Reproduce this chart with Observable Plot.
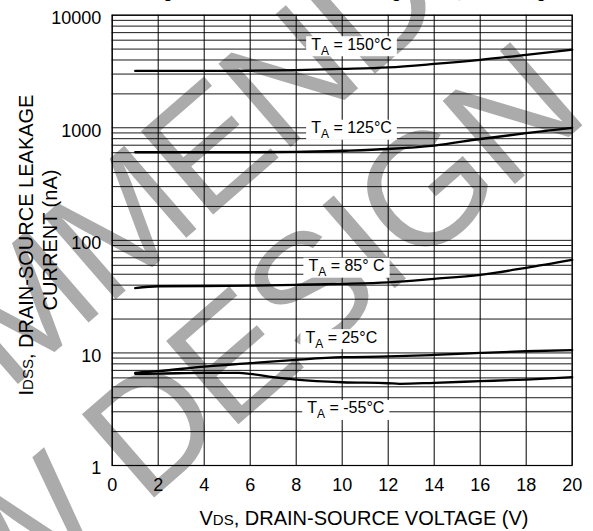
<!DOCTYPE html>
<html>
<head>
<meta charset="utf-8">
<script src="https://cdn.jsdelivr.net/npm/d3@7"></script>
<script src="https://cdn.jsdelivr.net/npm/@observablehq/plot@0.6"></script>
<style>
  html, body { margin: 0; padding: 0; background: #fff; }
  svg { display: block; }
</style>
</head>
<body>
<div id="chart"></div>
<script>
// ---- data ----
const xTicks = [0, 2, 4, 6, 8, 10, 12, 14, 16, 18, 20];
const yTicks = [1, 10, 100, 1000, 10000];
const yGrid = [1, 2, 3, 4, 5, 6, 7, 8, 9,
               10, 20, 30, 40, 50, 60, 70, 80, 90,
               100, 200, 300, 400, 500, 600, 700, 800, 900,
               1000, 2000, 3000, 4000, 5000, 6000, 7000, 8000, 9000, 10000];

const vds150 = [1, 2, 4, 6, 8, 10, 12, 14, 16, 18, 20];
const idss150 = [3200, 3200, 3200, 3210, 3250, 3330, 3440, 3690, 4010, 4440, 4950];

const vds125 = [1, 2, 4, 6, 8, 10, 12, 14, 16, 18, 20];
const idss125 = [606, 606, 606, 606, 610, 625, 648, 695, 795, 895, 1000];

const vds85 = [1, 2, 4, 6, 8, 10, 12, 14, 16, 18, 20];
const idss85 = [37.6, 39.1, 39.3, 39.6, 40.3, 41.1, 42.4, 45.5, 49.4, 57, 67];

const vds25 = [1, 2, 4, 6, 8, 10, 12, 14, 16, 18, 20];
const idss25 = [6.66, 6.88, 7.57, 8.1, 8.68, 9.16, 9.3, 9.6, 10.0, 10.35, 10.6];

const vdsM55 = [1, 2, 4, 5.5, 6, 7, 8, 10, 12, 12.5, 14, 16, 18, 20];
const idssM55 = [6.52, 6.55, 6.65, 6.65, 6.52, 6.09, 5.80, 5.49, 5.38, 5.32, 5.43, 5.61, 5.80, 6.09];

const seriesNames = ["150°C", "125°C", "85° C", "25°C", "-55°C"];
// annotation anchors (data units)
const labelX = [8.65, 8.65, 8.53, 8.4, 8.48];
const labelY = [5480, 993, 59.1, 13.7, 3.22];

// ---- build tables ----
const seriesX = [vds150, vds125, vds85, vds25, vdsM55];
const seriesY = [idss150, idss125, idss85, idss25, idssM55];
const rows = seriesX.flatMap((xs, s) => xs.map((x, i) => ({series: seriesNames[s], x, y: seriesY[s][i]})));
const labels = seriesNames.map((t, i) => ({t, x: labelX[i], y: labelY[i]}));

const FONT = "Liberation Sans, Arial, Helvetica, sans-serif";

const svg = Plot.plot({
  width: 593,
  height: 531,
  marginLeft: 111.7,
  marginRight: 21.3,
  marginTop: 14.7,
  marginBottom: 66,
  style: {background: "transparent", fontFamily: FONT},
  x: {domain: [0, 20], axis: null},
  y: {type: "log", domain: [1, 10000], axis: null},
  marks: [
    Plot.ruleY(yGrid, {y: d => d, stroke: "#000", strokeWidth: 1, strokeOpacity: 0.9}),
    Plot.ruleX(xTicks, {x: d => d, stroke: "#000", strokeWidth: 1}),
    Plot.frame({stroke: "#000", strokeWidth: 1.2}),
    Plot.line(rows, {x: "x", y: "y", z: "series", stroke: "#000", strokeWidth: 2.3, curve: "monotone-x"}),
    Plot.text(labels, {x: "x", y: "y", text: d => "TA = " + d.t, textAnchor: "start", lineAnchor: "middle",
      fontSize: 16, fontFamily: FONT, fill: "#000"}),
    Plot.text(xTicks, {x: d => d, frameAnchor: "bottom", dy: 20, text: d => String(d), lineAnchor: "middle",
      fontSize: 18, fontFamily: FONT, fill: "#000"}),
    Plot.text(yTicks, {y: d => d, frameAnchor: "left", dx: -11, dy: 3, textAnchor: "end", lineAnchor: "middle",
      text: d => String(d), fontSize: 18, fontFamily: FONT, fill: "#000"})
  ]
});

document.getElementById("chart").appendChild(svg);
const root = d3.select(svg);

// ---- watermark (underneath everything) ----
const wm = d3.create("svg:g")
  .attr("transform", "translate(139,451) rotate(-41)")
  .attr("fill", "#ababab")
  .attr("text-anchor", "start")
  .attr("font-family", FONT)
  .attr("font-size", 160);
wm.append("text").attr("x", -800).attr("y", 45).attr("letter-spacing", -4).text("FOR NEW DESIGN");
wm.append("text").attr("x", -870).attr("y", -130).attr("letter-spacing", -4).text("NOT RECOMMENDED");
svg.insertBefore(wm.node(), svg.firstChild);

// ---- temperature labels: subscript + white box ----
root.selectAll("text").each(function() {
  const t = this.textContent;
  if (!t.startsWith("TA = ")) return;
  const rest = t.slice(2);
  const sel = d3.select(this);
  sel.text(null);
  sel.append("tspan").text("T");
  sel.append("tspan").attr("font-size", 12).attr("dy", 5).text("A");
  sel.append("tspan").attr("dy", -5).text(rest);
  const bb = this.getBBox();
  const rect = document.createElementNS("http://www.w3.org/2000/svg", "rect");
  rect.setAttribute("x", bb.x - 5);
  rect.setAttribute("y", bb.y + 0.5);
  rect.setAttribute("width", bb.width + 10);
  rect.setAttribute("height", bb.height - 2);
  rect.setAttribute("fill", "#fff");
  const tr = this.getAttribute("transform");
  if (tr) rect.setAttribute("transform", tr);
  this.parentNode.insertBefore(rect, this);
});

// ---- axis titles ----
const xt = root.append("text")
  .attr("x", 364).attr("y", 525)
  .attr("text-anchor", "middle")
  .attr("font-family", FONT).attr("font-size", 20).attr("fill", "#000");
xt.append("tspan").text("V");
xt.append("tspan").attr("font-size", 15).text("DS");
xt.append("tspan").text(", DRAIN-SOURCE VOLTAGE (V)");

const yt1 = root.append("text")
  .attr("transform", "translate(32.7,245) rotate(-90)")
  .attr("text-anchor", "middle")
  .attr("font-family", FONT).attr("font-size", 20).attr("fill", "#000");
yt1.append("tspan").text("I");
yt1.append("tspan").attr("font-size", 15).text("DSS");
yt1.append("tspan").text(", DRAIN-SOURCE LEAKAGE");

root.append("text")
  .attr("transform", "translate(56.7,240) rotate(-90)")
  .attr("text-anchor", "middle")
  .attr("font-family", FONT).attr("font-size", 20).attr("fill", "#000")
  .text("CURRENT (nA)");

// ---- figure title, cut off by the top edge as in the reference ----
root.append("text")
  .attr("x", 149).attr("y", -2)
  .attr("text-anchor", "start")
  .attr("font-family", FONT).attr("font-size", 17).attr("fill", "#000")
  .text("Figure 8. Drain-to-Source Leakage Current vs Voltage");
</script>
</body>
</html>
